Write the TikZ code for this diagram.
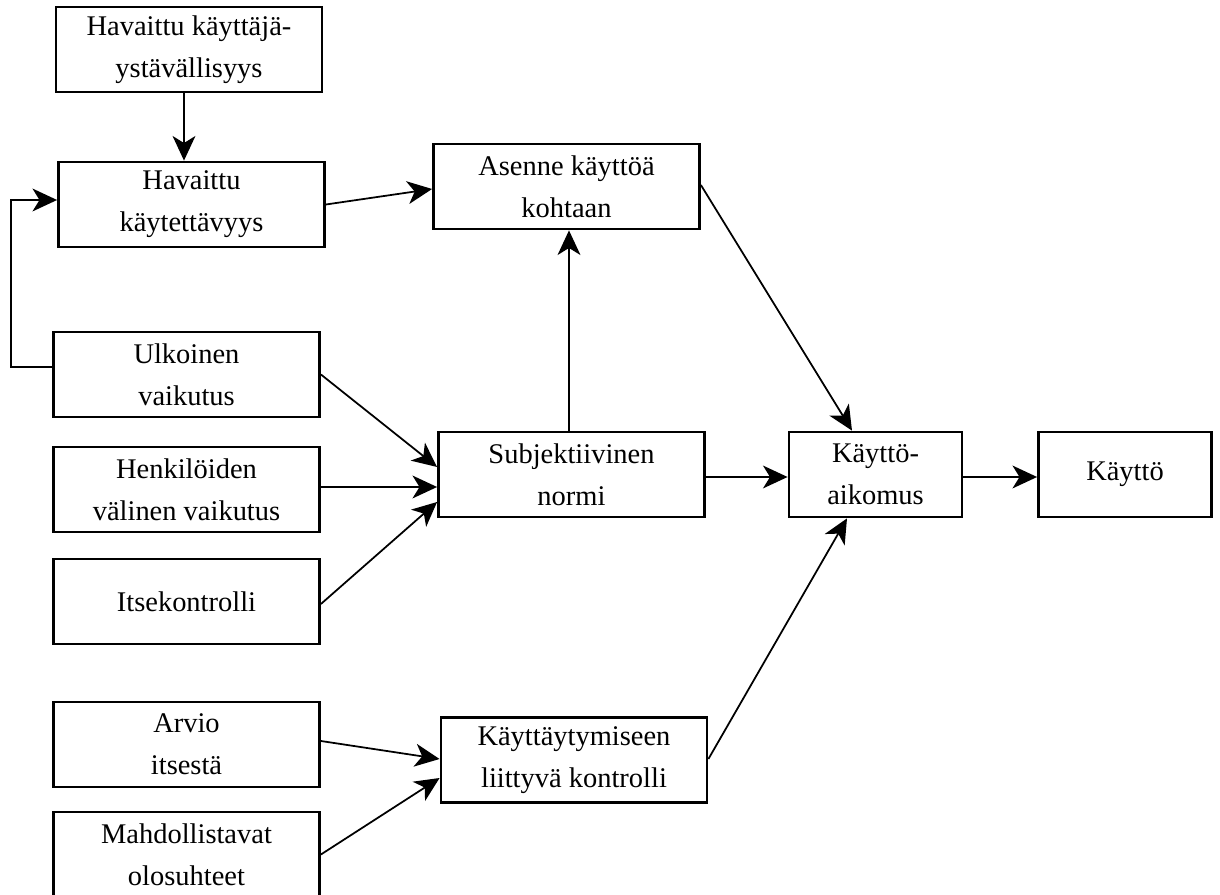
\documentclass[tikz,border=0pt]{standalone}
\usepackage{fontspec}
\setmainfont{Liberation Serif}
\usetikzlibrary{arrows.meta}
\begin{document}
\begin{tikzpicture}[x=1cm,y=1cm,
  box/.style={draw, line width=0.8pt, minimum height=0.85cm, inner sep=0pt,
    align=center, font=\fontsize{8.1}{12}\selectfont},
  wide/.style={box, minimum width=2.66cm},
  narrow/.style={box, minimum width=1.73cm},
  arr/.style={line width=0.5pt, -{Stealth[length=7pt,width=6.5pt,inset=2pt]}}]
\clip (0,0) rectangle (12.2,-8.95);
\fill[white] (0,0) rectangle (12.2,-8.95);

% boxes
\node[wide] (hky) at (1.89,-0.495) {Havaittu käyttäjä-\\ystävällisyys};
\node[wide] (hk)  at (1.915,-2.045) {Havaittu\\käytettävyys};
\node[wide] (ask) at (5.665,-1.865) {Asenne käyttöä\\kohtaan};
\node[wide] (uv)  at (1.865,-3.745) {Ulkoinen\\vaikutus};
\node[wide] (hvv) at (1.865,-4.895) {Henkilöiden\\välinen vaikutus};
\node[wide] (ik)  at (1.865,-6.015) {Itsekontrolli};
\node[wide] (sn)  at (5.715,-4.745) {Subjektiivinen\\normi};
\node[narrow] (ka) at (8.755,-4.745) {Käyttö-\\aikomus};
\node[narrow] (k)  at (11.25,-4.745) {Käyttö};
\node[wide] (ai)  at (1.865,-7.445) {Arvio\\itsestä};
\node[wide] (kk)  at (5.74,-7.60) {Käyttäytymiseen\\liittyvä kontrolli};
\node[wide] (mo)  at (1.865,-8.545) {Mahdollistavat\\olosuhteet};

% connectors
\draw[arr] ([xshift=-0.05cm]hky.south) -- ([xshift=-0.05cm]hky.south |- hk.north);
\draw[arr] ([yshift=0.075cm]uv.west) -- ++(-0.41,0) |- ([yshift=0.045cm]hk.west);
\draw[arr] (hk.east) -- ([yshift=-0.025cm]ask.west);
\draw[arr] ([xshift=-0.025cm]sn.north) -- ([xshift=-0.025cm]sn.north |- ask.south);
\draw[arr] ([yshift=0.015cm]ask.east) -- ([xshift=-0.235cm]ka.north);
\draw[arr] (uv.east) -- ([yshift=0.075cm]sn.west);
\draw[arr] ([yshift=-0.125cm]hvv.east |- sn.west) -- ([yshift=-0.125cm]sn.west);
\draw[arr] ([yshift=-0.025cm]ik.east) -- ([yshift=-0.275cm]sn.west);
\draw[arr] ([yshift=-0.025cm]sn.east) -- ([yshift=-0.025cm]ka.west);
\draw[arr] ([yshift=-0.025cm]ka.east) -- ([yshift=-0.025cm]k.west);
\draw[arr] ([yshift=0.035cm]ai.east) -- ([yshift=0.01cm]kk.west);
\draw[arr] (mo.east) -- ([yshift=-0.18cm]kk.west);
\draw[arr] ([yshift=0.01cm]kk.east) -- ([xshift=-0.285cm]ka.south);
\end{tikzpicture}
\end{document}
